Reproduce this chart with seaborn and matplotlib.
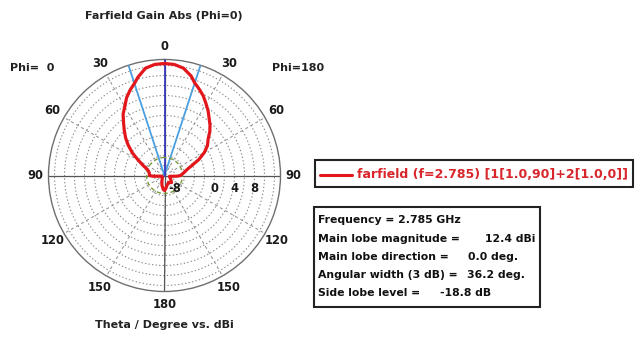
import numpy as np
import pandas as pd
import matplotlib
matplotlib.use("Agg")
import matplotlib.pyplot as plt
import seaborn as sns

# theta (deg) and gain (dBi) for the Phi=0 half (left) and Phi=180 half (right)
theta_phi0 = [0, 5, 10, 15, 18, 22, 26, 30, 34, 38, 42, 46, 50, 55, 60, 65, 70, 75, 80, 90,
              93, 96, 100, 120, 140, 155, 165, 175, 180]
gain_phi0 = [12.4, 12.3, 11.8, 10.4, 9.4, 8.4, 7.3, 5.9, 4.8, 3.3, 2.0, 0.8, -0.5, -2.2, -4.0,
             -5.3, -6.3, -6.7, -6.9, -7.0, -7.6, -8.6, -9.3, -9.5, -9.3, -8.8, -8.0, -7.2, -7.0]
theta_phi180 = [0, 5, 10, 15, 18, 22, 26, 30, 34, 38, 42, 46, 50, 55, 60, 65, 70, 75, 80, 85, 90,
                93, 96, 100, 120, 135, 150, 165, 175, 180]
gain_phi180 = [12.4, 12.3, 11.8, 10.6, 9.5, 8.6, 7.7, 6.6, 5.6, 4.5, 3.6, 2.6, 1.4, 0.5, -0.8,
               -2.4, -4.2, -5.3, -5.9, -6.4, -6.8, -7.5, -8.5, -9.0, -8.6, -8.0, -8.4, -8.0, -7.3, -7.0]

main_lobe = 12.4
main_dir = 0.0
beam_width = 36.2
side_lobe = -18.8

theta_ticks = [0, 30, 60, 90, 120, 150, 180, 210, 240, 270, 300, 330]
theta_labels = ["0", "30", "60", "90", "120", "150", "180", "150", "120", "90", "60", "30"]
r_ticks = np.arange(-8, 13, 2)
r_labels = [-8, 0, 4, 8]

info_labels = ["Frequency = 2.785 GHz", "Main lobe magnitude =", "Main lobe direction =",
               "Angular width (3 dB) =", "Side lobe level ="]
info_values = ["", "12.4 dBi", "0.0 deg.", "36.2 deg.", "-18.8 dB"]
info_value_x = [0, 485, 468, 467, 440]

sns.set_theme(style="white")
plt.rcParams["font.family"] = ["DejaVu Sans"]
plt.rcParams["font.weight"] = "bold"

rmin, rmax = -10, 13.2

# closed curve: Phi=0 on the left (positive angle), Phi=180 on the right
df = pd.DataFrame({
    "theta": np.deg2rad(list(theta_phi0) + [360 - t for t in theta_phi180[::-1]]),
    "gain": list(gain_phi0) + list(gain_phi180[::-1]),
})

fig = plt.figure(figsize=(6.44, 3.49), dpi=100)
W, H = 644, 349
cx, cy, R = 164.5, 175.5, 116
ax = fig.add_axes([(cx - R) / W, (H - cy - R) / H, 2 * R / W, 2 * R / H], projection="polar")
ax.set_theta_zero_location("N")
ax.set_theta_direction(1)
ax.set_ylim(rmin, rmax)

ax.set_xticks(np.deg2rad(theta_ticks))
ax.set_xticklabels(theta_labels, fontsize=8.3, fontweight="bold", color="#1a1a1a")
ax.tick_params(axis="x", pad=-3.5)
ax.set_yticks(r_ticks)
ax.set_yticklabels([])
ax.grid(True, which="major", axis="y", color="#8a8a8a", linestyle=(0, (1.2, 2)), linewidth=0.8)
ax.xaxis.grid(True, color="#8a8a8a", linestyle=(0, (3, 3)), linewidth=0.7)
ax.spines["polar"].set_color("#6f6f6f")
ax.spines["polar"].set_linewidth(1.0)

# solid cross axes
for a in [0, 90, 180, 270]:
    ax.plot(np.deg2rad([a, a]), [rmin, rmax], color="#555555", lw=0.9, zorder=2)

# 3 dB beam lines and main lobe direction
for a in [beam_width / 2, -beam_width / 2]:
    ax.plot(np.deg2rad([a, a]), [rmin, rmax], color="#4a9fe0", lw=1.3, zorder=3)
ax.plot(np.deg2rad([main_dir, main_dir]), [rmin, rmax], color="#3a3ac0", lw=1.3, zorder=3)

# side lobe level circle
circ = np.linspace(0, 2 * np.pi, 200)
ax.plot(circ, np.full_like(circ, main_lobe + side_lobe), color="#7a9a3a",
        lw=1.0, linestyle=(0, (3, 2)), zorder=3)

sns.lineplot(data=df, x="theta", y="gain", ax=ax, sort=False, estimator=None,
             color="#e3161c", lw=2.3, zorder=4)
ax.set_xlabel("")
ax.set_ylabel("")

for v in r_labels:
    ax.annotate(str(v), xy=(np.deg2rad(270), v), xytext=(0, -9), textcoords="offset points",
                ha="center", va="center", fontsize=8.3, fontweight="bold", color="#1a1a1a")

# texts around the plot
fig.text(164 / W, 1 - 16 / H, "Farfield Gain Abs (Phi=0)", ha="center", va="center",
         fontsize=8, fontweight="bold", color="#222222")
fig.text(10 / W, 1 - 68 / H, "Phi=  0", ha="left", va="center", fontsize=8,
         fontweight="bold", color="#222222")
fig.text(272 / W, 1 - 68 / H, "Phi=180", ha="left", va="center", fontsize=8,
         fontweight="bold", color="#222222")
fig.text(164 / W, 1 - 325 / H, "Theta / Degree vs. dBi", ha="center", va="center",
         fontsize=8, fontweight="bold", color="#222222")

# legend box
fig.patches.append(plt.Rectangle((315 / W, 1 - 187 / H), 318 / W, 27 / H, transform=fig.transFigure,
                                 fill=False, edgecolor="#222222", lw=1.5))
fig.lines.append(plt.Line2D([320 / W, 352 / W], [1 - 175 / H, 1 - 175 / H],
                            transform=fig.transFigure, color="#e3161c", lw=2.2))
fig.text(357 / W, 1 - 175 / H, "farfield (f=2.785) [1[1.0,90]+2[1.0,0]]", ha="left",
         va="center", fontsize=9.0, fontweight="bold", color="#d8262b")

# info box
fig.patches.append(plt.Rectangle((314 / W, 1 - 307 / H), 226 / W, 100 / H, transform=fig.transFigure,
                                 fill=False, edgecolor="#222222", lw=1.5))
rows_y = [220, 238.5, 257, 275.5, 293.5]
for lab, val, vx, y in zip(info_labels, info_values, info_value_x, rows_y):
    fig.text(318 / W, 1 - y / H, lab, ha="left", va="center", fontsize=7.8,
             fontweight="bold", color="#111111")
    if val:
        fig.text(vx / W, 1 - y / H, val, ha="left", va="center", fontsize=7.8,
                 fontweight="bold", color="#111111")

fig.savefig("out.png", dpi=100, facecolor="white")
